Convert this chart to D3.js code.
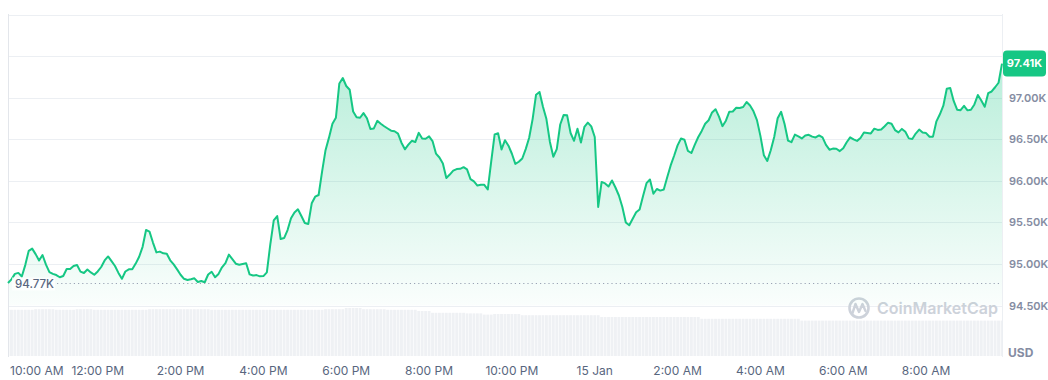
<!DOCTYPE html>
<html><head><meta charset="utf-8">
<script src="https://cdn.jsdelivr.net/npm/d3@7"></script>
<style>body{margin:0;background:#fff}svg{display:block;font-family:Inter,"Noto Sans",sans-serif}</style>
</head><body><svg id="c" width="1048" height="380"></svg>
<script>
const startTime = new Date(2025, 0, 14, 9, 50);
const stepMinutes = 5;
const prices = [
94770,94814,94880,94892,94849,94986,95157,95184,95118,95041,95107,94991,
94902,94880,94866,94840,94855,94939,94939,94976,94988,94907,94891,94932,
94898,94870,94910,94963,95042,95090,95033,94975,94892,94821,94909,94935,
94935,95004,95086,95206,95408,95389,95257,95139,95148,95128,95123,95044,
94994,94934,94870,94821,94807,94815,94827,94783,94795,94780,94873,94905,
94840,94880,94959,95011,95112,95058,95003,94990,95000,95009,94874,94860,
94866,94851,94854,94899,95236,95524,95575,95300,95311,95407,95549,95620,
95657,95577,95492,95480,95729,95809,95829,96110,96368,96519,96686,96757,
97171,97236,97140,97095,96833,96764,96758,96814,96752,96623,96630,96721,
96686,96656,96629,96603,96596,96568,96458,96379,96434,96481,96466,96577,
96509,96505,96534,96478,96327,96280,96208,96034,96075,96122,96141,96144,
96164,96137,96020,95992,95943,95952,95951,95895,96231,96558,96571,96377,
96488,96422,96325,96203,96229,96268,96381,96517,96742,97035,97068,96891,
96742,96470,96289,96381,96677,96792,96787,96575,96481,96626,96461,96648,
96699,96654,96527,95685,95986,95968,95931,96004,95919,95823,95685,95498,
95465,95543,95621,95655,95818,95971,96016,95844,95901,95882,95895,96042,
96185,96301,96426,96508,96494,96359,96334,96434,96527,96600,96686,96728,
96822,96861,96771,96657,96723,96831,96834,96878,96876,96888,96948,96906,
96835,96730,96540,96308,96239,96367,96526,96752,96830,96683,96484,96464,
96555,96535,96509,96544,96553,96531,96521,96546,96522,96431,96374,96387,
96385,96357,96392,96463,96522,96498,96480,96515,96581,96576,96570,96627,
96612,96616,96656,96699,96687,96610,96582,96624,96589,96510,96503,96568,
96616,96580,96574,96529,96531,96715,96800,96903,97107,97116,96960,96855,
96849,96901,96847,96854,96918,97032,96966,96890,97054,97074,97125,97179,
97410];
const volumes = [
77,77,77,77,77,77,77,77,78,78,78,78,78,78,77,77,77,77,77,77,78,78,78,78,78,
77,77,77,77,77,77,77,77,77,77,77,77,77,77,77,77,
78,78,78,78,78,78,78,78,78,78,78,78,78,78,78,78,78,78,
77,77,77,77,77,77,77,77,77,77,77,77,77,77,77,77,77,77,77,77,77,77,77,77,77,77,77,77,77,77,77,77,77,
78,78,78,78,78,78,80,80,80,80,80,78,78,78,78,78,78,78,
77,77,77,77,77,77,77,77,77,75,75,75,75,
72,72,72,72,72,72,72,72,72,72,71,71,71,71,71,69,69,69,70,70,70,70,70,70,70,70,
68,68,68,68,68,68,68,68,68,68,68,68,68,68,68,68,68,68,68,68,68,68,68,
65,65,65,65,65,65,65,65,65,65,65,65,65,65,65,65,65,65,65,65,65,65,65,65,65,65,65,65,65,
62,62,62,62,62,62,62,62,62,62,62,62,62,62,62,62,62,62,62,62,62,62,62,62,62,62,62,62,62,
59,59,59,59,59,59,59,59,59,59,59,59,59,59,59,59,59,59,59,59,59,59,59,59,59,59,59,59,59,59,
59,59,59,59,59,59,59,59,59,59,59,59,59,59,59,59,59,59,59,59,59,59,59,59,59,59,59,59,59];
const gridValues = [94500,95000,95500,96000,96500,97000,97500,98000];
const priceTicks = [94500,95000,95500,96000,96500,97000];
const priceTickLabels = ["94.50K","95.00K","95.50K","96.00K","96.50K","97.00K"];
const openPrice = 94770, openLabel = "94.77K";
const lastLabel = "97.41K";
const currencyLabel = "USD";
const watermark = "CoinMarketCap";

const times = prices.map((_, i) => new Date(startTime.getTime() + i * stepMinutes * 60000));
const data = prices.map((p, i) => ({t: times[i], p, v: volumes[i]}));

const L = 8, R = 1002, T = 14, B = 356;
const green = "#16c784";
const svg = d3.select("#c");
const x = d3.scaleTime().domain(d3.extent(times)).range([L, R]);
const y = d3.scaleLinear().domain([94500, 98000]).range([305.5, 14.5]);
const v = d3.scaleLinear().domain([0, 80]).range([B, 308]);

const defs = svg.append("defs");
const grad = defs.append("linearGradient").attr("id", "ag").attr("x1", 0).attr("x2", 0).attr("y1", 0).attr("y2", 1);
grad.append("stop").attr("offset", "0%").attr("stop-color", green).attr("stop-opacity", 0.3);
grad.append("stop").attr("offset", "100%").attr("stop-color", green).attr("stop-opacity", 0.02);
defs.append("clipPath").attr("id", "clip").append("rect").attr("x", L + 1).attr("y", T).attr("width", R - L - 1).attr("height", B - T);

// grid
svg.append("g").selectAll("line").data(gridValues).join("line")
  .attr("x1", L).attr("x2", R)
  .attr("y1", d => Math.round(y(d)) + 0.5).attr("y2", d => Math.round(y(d)) + 0.5)
  .attr("stroke", "#eceff3").attr("stroke-width", 1);
svg.append("line").attr("x1", L + 0.5).attr("x2", L + 0.5).attr("y1", T).attr("y2", B + 1).attr("stroke", "#e3e6eb");
svg.append("line").attr("x1", R + 0.5).attr("x2", R + 0.5).attr("y1", T).attr("y2", B + 1).attr("stroke", "#eceff3");

// volume
const bw = x(times[1]) - x(times[0]);
svg.append("g").attr("clip-path", "url(#clip)").selectAll("rect").data(data).join("rect")
  .attr("x", d => x(d.t) - bw / 2 + 0.3).attr("width", bw - 0.6)
  .attr("y", d => v(d.v)).attr("height", d => B - v(d.v))
  .attr("fill", "#eff1f4");

// watermark
const wm = svg.append("g");
wm.append("circle").attr("cx", 859).attr("cy", 308).attr("r", 9.5).attr("fill", "none").attr("stroke", "#cdd2da").attr("stroke-width", 2.6);
wm.append("path").attr("d", "M852.5,313 L855.5,304 L859,312 L862.5,304 L865.5,311").attr("fill", "none").attr("stroke", "#cdd2da").attr("stroke-width", 2.4).attr("stroke-linejoin", "round").attr("stroke-linecap", "round");
wm.append("text").attr("x", 877).attr("y", 314).attr("font-size", 16).attr("font-weight", 600).attr("fill", "#cdd2da").text(watermark);

// area + line
svg.append("path").datum(data).attr("clip-path", "url(#clip)")
  .attr("d", d3.area().x(d => x(d.t)).y0(305.5).y1(d => y(d.p)))
  .attr("fill", "url(#ag)");
svg.append("path").datum(data)
  .attr("d", d3.line().x(d => x(d.t)).y(d => y(d.p)))
  .attr("fill", "none").attr("stroke", green).attr("stroke-width", 2).attr("stroke-linejoin", "round");

// open price dotted line + label
const oy = Math.round(y(openPrice)) + 0.5;
svg.append("line").attr("x1", 57).attr("x2", R).attr("y1", oy).attr("y2", oy)
  .attr("stroke", "#9aa3b5").attr("stroke-width", 1.2).attr("stroke-dasharray", "1.2,3");
svg.append("rect").attr("x", 12).attr("y", oy - 6).attr("width", 43).attr("height", 13).attr("fill", "#fff").attr("opacity", 0.75);
svg.append("text").attr("x", 15).attr("y", oy + 1.5).attr("dominant-baseline", "middle")
  .attr("font-size", 11.5).attr("font-weight", 500).attr("fill", "#58667e").text(openLabel);

// right axis
svg.append("g").selectAll("text").data(priceTicks).join("text")
  .attr("x", 1009).attr("y", d => y(d) + 1).attr("dominant-baseline", "middle")
  .attr("font-size", 11).attr("font-weight", 600).attr("fill", "#858ca2")
  .text((d, i) => priceTickLabels[i]);
svg.append("text").attr("x", 1008).attr("y", 354).attr("dominant-baseline", "middle")
  .attr("font-size", 12).attr("font-weight", 700).attr("fill", "#858ca2").text(currencyLabel);

// last price badge
const ly = y(prices[prices.length - 1]);
svg.append("rect").attr("x", 1003).attr("y", ly - 13).attr("width", 43).attr("height", 26).attr("rx", 4).attr("fill", green);
svg.append("text").attr("x", 1024.5).attr("y", ly + 0.5).attr("text-anchor", "middle").attr("dominant-baseline", "middle")
  .attr("font-size", 11).attr("font-weight", 700).attr("fill", "#fff").text(lastLabel);

// time axis
const fmt = d => (d.getHours() === 0 ? d3.timeFormat("%-d %b")(d) : d3.timeFormat("%-I:%M %p")(d));
const tg = svg.append("g");
x.ticks(d3.timeHour.every(2)).forEach(t => {
  const tx = tg.append("text").attr("x", x(t)).attr("y", 372).attr("text-anchor", "middle")
    .attr("dominant-baseline", "middle").attr("font-size", 12).attr("fill", "#58667e").text(fmt(t));
  const w = tx.node().getComputedTextLength();
  if (x(t) - w / 2 < 10) tx.attr("x", 10 + w / 2);
});
</script></body></html>
